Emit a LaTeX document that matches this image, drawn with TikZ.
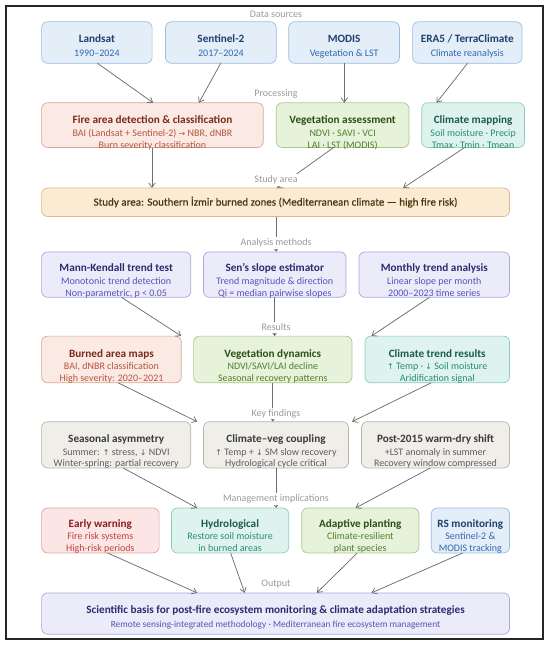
\documentclass[tikz,border=0pt]{standalone}
\usepackage{fontspec}
\setmainfont{Carlito}
\newfontfamily\symf{DejaVu Sans}
\newfontfamily\medfont[FakeBold=0.5]{Carlito}
\usetikzlibrary{arrows.meta,calc}
\definecolor{bF}{HTML}{E4EEF9}\definecolor{bD}{HTML}{9DBCE0}\definecolor{bT}{HTML}{1F3F6E}\definecolor{bS}{HTML}{2F68B0}
\definecolor{rF}{HTML}{FBEAE4}\definecolor{rD}{HTML}{D8A598}\definecolor{rT}{HTML}{7A2A1A}\definecolor{rS}{HTML}{B5553D}
\definecolor{gF}{HTML}{E7F2DA}\definecolor{gD}{HTML}{A9C98C}\definecolor{gT}{HTML}{2D5016}\definecolor{gS}{HTML}{4F7F2C}
\definecolor{tF}{HTML}{DEF3EE}\definecolor{tD}{HTML}{8ECDBE}\definecolor{tT}{HTML}{1D5A4E}\definecolor{tS}{HTML}{2A8C73}
\definecolor{oF}{HTML}{FCEBD3}\definecolor{oD}{HTML}{DDB88A}\definecolor{oT}{HTML}{4A3510}
\definecolor{pF}{HTML}{ECEBFA}\definecolor{pD}{HTML}{ABA6DE}\definecolor{pT}{HTML}{2E2A6E}\definecolor{pS}{HTML}{5A52B8}
\definecolor{kF}{HTML}{F0EEE9}\definecolor{kD}{HTML}{B9B4AA}\definecolor{kT}{HTML}{3A3A3A}\definecolor{kS}{HTML}{5E5E5E}
\definecolor{eF}{HTML}{FBE5E5}\definecolor{eD}{HTML}{E1A3A3}\definecolor{eT}{HTML}{8B1E1E}\definecolor{eS}{HTML}{C0453F}
\definecolor{arrC}{HTML}{6E6E6E}\definecolor{lblC}{HTML}{9A9A9A}
\newcommand{\uar}{{\symf\scalebox{0.8}{↑}}}
\newcommand{\dar}{{\symf\scalebox{0.8}{↓}}}
\newcommand{\rar}{{\symf\scalebox{0.8}{→}}}
\newcommand{\mybox}[6]{\node[bx,fill=#2F,draw=#2D,minimum width={#5-#3},minimum height={#6-#4}] (#1) at ({(#3+#5)/2},{(#4+#6)/2}) {};}
\tikzset{
  bx/.style={rectangle,rounded corners=6pt,line width=0.7pt,inner sep=0pt,outer sep=0pt},
  ttl/.style={anchor=base,yshift=-3.5pt,inner sep=0pt,font=\fontsize{11.2}{13}\selectfont\bfseries},
  sbt/.style={anchor=base,yshift=-3.1pt,inner sep=0pt,font=\fontsize{10}{12}\selectfont},
  lbl/.style={fill=white,text=lblC,inner sep=1.5pt,font=\fontsize{10}{12}\selectfont},
  arr/.style={draw=arrC,line width=0.75pt,-{Straight Barb[length=4.5pt,width=6.5pt]}},
}
\begin{document}
\begin{tikzpicture}[x=1pt,y=-1pt]
\useasboundingbox (0,0) rectangle (550,645);
\node[draw=black!85,line width=1.1pt,minimum width=537pt,minimum height=633pt,inner sep=0pt] (frame) at (274.5,322.5) {};
% Row 1
\mybox{landsat}{b}{41.6}{21.8}{152.1}{63.3}
\mybox{sentinel}{b}{165.5}{21.8}{276.3}{63.3}
\mybox{modis}{b}{288.7}{21.8}{399.5}{63.3}
\mybox{era}{b}{412.6}{21.8}{522}{63.3}
% Row 2
\mybox{fire}{r}{41.6}{102.8}{263.3}{147.5}
\mybox{veg}{g}{276.3}{102.8}{409}{147.5}
\mybox{clim}{t}{421.7}{102.8}{524.5}{147.5}
% Study
\mybox{study}{o}{41.6}{188}{509.5}{216.5}
% Row 4
\mybox{mk}{p}{41.6}{251.9}{190.8}{297.3}
\mybox{sen}{p}{203.5}{251.9}{346}{297.3}
\mybox{monthly}{p}{359}{251.9}{509.5}{297.3}
% Row 5
\mybox{burned}{r}{41.6}{336.1}{181.3}{382.8}
\mybox{vegdyn}{g}{193.6}{336.1}{352}{382.8}
\mybox{climtr}{t}{365}{336.1}{509.5}{382.8}
% Row 6
\mybox{seas}{k}{41.6}{421.7}{190.8}{468}
\mybox{cvc}{k}{203.5}{421.7}{348.5}{468}
\mybox{post}{k}{361.5}{421.7}{509.5}{468}
% Row 7
\mybox{early}{e}{41.6}{508}{159.1}{552.9}
\mybox{hydro}{t}{171.4}{508}{288.7}{552.9}
\mybox{adapt}{g}{301.7}{508}{418.9}{552.9}
\mybox{rs}{b}{431.2}{508}{509.5}{552.9}
% Output
\mybox{output}{p}{41.6}{592.9}{509.5}{634.2}

% Texts row 1
\node[ttl,text=bT] (landsatA) at (landsat.center |- 0,39.3) {Landsat};
\node[sbt,text=bS] (landsatB) at (landsat.center |- 0,53.8) {1990–2024};
\node[ttl,text=bT] (sentinelA) at (sentinel.center |- 0,39.3) {Sentinel-2};
\node[sbt,text=bS] (sentinelB) at (sentinel.center |- 0,53.8) {2017–2024};
\node[ttl,text=bT] (modisA) at (modis.center |- 0,39.3) {MODIS};
\node[sbt,text=bS] (modisB) at (modis.center |- 0,53.8) {Vegetation \& LST};
\node[ttl,text=bT] (eraA) at (era.center |- 0,39.3) {ERA5 / TerraClimate};
\node[sbt,text=bS] (eraB) at (era.center |- 0,53.8) {Climate reanalysis};
% Row 2
\node[ttl,text=rT] (fireA) at (fire.center |- 0,120.2) {Fire area detection \& classification};
\node[sbt,text=rS] (fireB) at (fire.center |- 0,133.7) {BAI (Landsat + Sentinel-2) \rar{} NBR, dNBR};
\node[sbt,text=rS] (fireC) at (fire.center |- 0,145.4) {Burn severity classification};
\node[ttl,text=gT] (vegA) at (veg.center |- 0,120.2) {Vegetation assessment};
\node[sbt,text=gS] (vegB) at (veg.center |- 0,133.7) {NDVI · SAVI · VCI};
\node[sbt,text=gS] (vegC) at (veg.center |- 0,145.4) {LAI · LST (MODIS)};
\node[ttl,text=tT] (climA) at (clim.center |- 0,120.2) {Climate mapping};
\node[sbt,text=tS] (climB) at (clim.center |- 0,133.7) {Soil moisture · Precip};
\node[sbt,text=tS] (climC) at (clim.center |- 0,145.4) {Tmax · Tmin · Tmean};
% Study
\node[sbt,text=oT,font=\fontsize{11}{13}\medfont,yshift=-0.3pt] (studyA) at (study.center) {Study area: Southern İzmir burned zones (Mediterranean climate — high fire risk)};
% Row 4
\node[ttl,text=pT] (mkA) at (mk.center |- 0,268) {Mann-Kendall trend test};
\node[sbt,text=pS] (mkB) at (mk.center |- 0,281.5) {Monotonic trend detection};
\node[sbt,text=pS] (mkC) at (mk.center |- 0,292.9) {Non-parametric, p < 0.05};
\node[ttl,text=pT] (senA) at (sen.center |- 0,268) {Sen's slope estimator};
\node[sbt,text=pS] (senB) at (sen.center |- 0,281.5) {Trend magnitude \& direction};
\node[sbt,text=pS] (senC) at (sen.center |- 0,292.9) {Qi = median pairwise slopes};
\node[ttl,text=pT] (monthlyA) at (monthly.center |- 0,268) {Monthly trend analysis};
\node[sbt,text=pS] (monthlyB) at (monthly.center |- 0,281.5) {Linear slope per month};
\node[sbt,text=pS] (monthlyC) at (monthly.center |- 0,292.9) {2000–2023 time series};
% Row 5
\node[ttl,text=rT] (burnedA) at (burned.center |- 0,353.6) {Burned area maps};
\node[sbt,text=rS] (burnedB) at (burned.center |- 0,366.4) {BAI, dNBR classification};
\node[sbt,text=rS] (burnedC) at (burned.center |- 0,378.8) {High severity: 2020–2021};
\node[ttl,text=gT] (vegdynA) at (vegdyn.center |- 0,353.6) {Vegetation dynamics};
\node[sbt,text=gS] (vegdynB) at (vegdyn.center |- 0,366.4) {NDVI/SAVI/LAI decline};
\node[sbt,text=gS] (vegdynC) at (vegdyn.center |- 0,378.8) {Seasonal recovery patterns};
\node[ttl,text=tT] (climtrA) at (climtr.center |- 0,353.6) {Climate trend results};
\node[sbt,text=tS] (climtrB) at (climtr.center |- 0,366.4) {\uar{} Temp · \dar{} Soil moisture};
\node[sbt,text=tS] (climtrC) at (climtr.center |- 0,378.8) {Aridification signal};
% Row 6
\node[ttl,text=kT] (seasA) at (seas.center |- 0,438.5) {Seasonal asymmetry};
\node[sbt,text=kS] (seasB) at (seas.center |- 0,452.6) {Summer: \uar{} stress, \dar{} NDVI};
\node[sbt,text=kS] (seasC) at (seas.center |- 0,463.7) {Winter-spring: partial recovery};
\node[ttl,text=kT] (cvcA) at (cvc.center |- 0,438.5) {Climate–veg coupling};
\node[sbt,text=kS] (cvcB) at (cvc.center |- 0,452.6) {\uar{} Temp + \dar{} SM slow recovery};
\node[sbt,text=kS] (cvcC) at (cvc.center |- 0,463.7) {Hydrological cycle critical};
\node[ttl,text=kT] (postA) at (post.center |- 0,438.5) {Post-2015 warm-dry shift};
\node[sbt,text=kS] (postB) at (post.center |- 0,452.6) {+LST anomaly in summer};
\node[sbt,text=kS] (postC) at (post.center |- 0,463.7) {Recovery window compressed};
% Row 7
\node[ttl,text=eT] (earlyA) at (early.center |- 0,524) {Early warning};
\node[sbt,text=eS] (earlyB) at (early.center |- 0,536.8) {Fire risk systems};
\node[sbt,text=eS] (earlyC) at (early.center |- 0,548.6) {High-risk periods};
\node[ttl,text=tT] (hydroA) at (hydro.center |- 0,524) {Hydrological};
\node[sbt,text=tS] (hydroB) at (hydro.center |- 0,536.8) {Restore soil moisture};
\node[sbt,text=tS] (hydroC) at (hydro.center |- 0,548.6) {in burned areas};
\node[ttl,text=gT] (adaptA) at (adapt.center |- 0,524) {Adaptive planting};
\node[sbt,text=gS] (adaptB) at (adapt.center |- 0,536.8) {Climate-resilient};
\node[sbt,text=gS] (adaptC) at (adapt.center |- 0,548.6) {plant species};
\node[ttl,text=bT] (rsA) at (rs.center |- 0,524) {RS monitoring};
\node[sbt,text=bS] (rsB) at (rs.center |- 0,536.8) {Sentinel-2 \&};
\node[sbt,text=bS] (rsC) at (rs.center |- 0,548.6) {MODIS tracking};
% Output
\node[ttl,text=pT,font=\fontsize{11.2}{13}\selectfont\bfseries] (outputA) at (output.center |- 0,610) {Scientific basis for post-fire ecosystem monitoring \& climate adaptation strategies};
\node[sbt,text=pS,font=\fontsize{9.4}{11}\selectfont] (outputB) at (output.center |- 0,624.2) {Remote sensing-integrated methodology · Mediterranean fire ecosystem management};

% Arrows
\draw[arr] (97.5,0 |- landsat.south) -- (153.1,0 |- fire.north);
\draw[arr] (220.7,0 |- sentinel.south) -- (198.9,0 |- fire.north);
\draw[arr] (344.3,0 |- modis.south) -- (344.3,0 |- veg.north);
\draw[arr] (467.5,0 |- era.south) -- (436.5,0 |- clim.north);
\draw[arr] (152,0 |- fire.south) -- (152,0 |- study.north);
\draw[arr] (333.6,0 |- veg.south) -- (277,0 |- study.north);
\draw[arr] (464.7,0 |- clim.south) -- (403.1,0 |- study.north);
\draw[arr] (276,0 |- study.south) -- (276,0 |- sen.north);
\draw[arr] (121.5,0 |- mk.south) -- (181.3,0 |- vegdyn.north);
\draw[arr] (274.6,0 |- sen.south) -- (274.6,0 |- vegdyn.north);
\draw[arr] (429.5,0 |- monthly.south) -- (371.4,0 |- vegdyn.north);
\draw[arr] (118,0 |- burned.south) -- (197.2,0 |- cvc.north);
\draw[arr] (272.8,0 |- vegdyn.south) -- (272.8,0 |- cvc.north);
\draw[arr] (431.2,0 |- climtr.south) -- (352,0 |- cvc.north);
\draw[arr] (123.2,0 |- seas.south) -- (197.2,0 |- hydro.north);
\draw[arr] (276,0 |- cvc.south) -- (276,0 |- hydro.north);
\draw[arr] (430.2,0 |- post.south) -- (355.5,0 |- adapt.north);
\draw[arr] (107.4,0 |- early.south) -- (197.2,0 |- output.north);
\draw[arr] (230.6,0 |- hydro.south) -- (244.7,0 |- output.north);
\draw[arr] (357.3,0 |- adapt.south) -- (316.8,0 |- output.north);
\draw[arr] (462.9,0 |- rs.south) -- (371.4,0 |- output.north);

% Stage labels
\node[lbl] (l1) at (276,14.8) {Data sources};
\node[lbl] (l2) at (276,93.5) {Processing};
\node[lbl] (l3) at (276,180) {Study area};
\node[lbl] (l4) at (276,242.8) {Analysis methods};
\node[lbl] (l5) at (276,327.5) {Results};
\node[lbl] (l6) at (276,413.4) {Key findings};
\node[lbl] (l7) at (276,499) {Management implications};
\node[lbl] (l8) at (276,583.8) {Output};
\end{tikzpicture}
\end{document}
